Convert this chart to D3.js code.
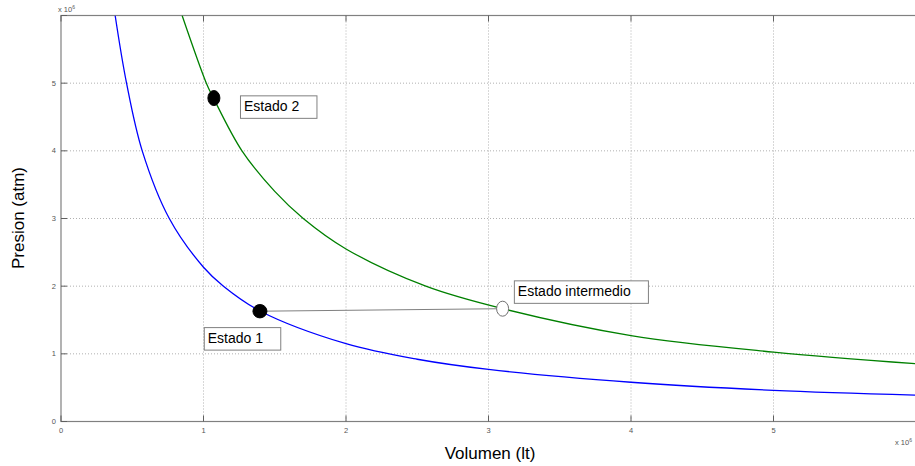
<!DOCTYPE html>
<html>
<head>
    <title>Presion vs Volumen</title>
    <script src="https://d3js.org/d3.v7.min.js"></script>
    <style>
        body {
            margin: 0;
            padding: 0;
            background: #ffffff;
            overflow: hidden;
            font-family: Arial, "Liberation Sans", sans-serif;
        }
        .grid line { stroke: #b0b0b0; stroke-dasharray: 1,2; }
        .tick-label { font-size: 7.5px; fill: #555; }
        .note rect { fill: #fff; stroke: #808080; stroke-width: 1; }
        .note text { font-size: 14px; fill: #000; }
    </style>
</head>
<body>
    <div id="chart"></div>
    <script>
        const width = 915;
        const height = 466;

        // Tick values (axis units are x10^6 on both axes)
        const xTicks = [0, 1, 2, 3, 4, 5, 6];
        const yTicks = [0, 1, 2, 3, 4, 5, 6];
        const yLabels = ['0', '1', '2', '3', '4', '5', ''];
        const xLabels = ['0', '1', '2', '3', '4', '5', ''];

        // Blue curve (Estado 1 side)
        const blueVol = [0.38, 0.46, 0.57, 0.76, 1.0, 1.14, 1.4, 2.0, 2.5, 3.0, 4.0, 5.0, 6.0];
        const bluePres = [6.0, 5.0, 4.0, 3.0, 2.28, 2.0, 1.63, 1.15, 0.92, 0.77, 0.58, 0.46, 0.39];

        // Green curve (Estado 2 side)
        const greenVol = [0.85, 1.02, 1.07, 1.27, 1.5, 1.7, 2.0, 2.56, 3.1, 4.0, 5.0, 6.0];
        const greenPres = [6.0, 5.0, 4.78, 4.0, 3.4, 3.0, 2.55, 2.0, 1.667, 1.27, 1.025, 0.853];

        // States
        const stateNames = ['Estado 1', 'Estado 2', 'Estado intermedio'];
        const stateVol = [1.396, 1.073, 3.099];
        const statePres = [1.63, 4.78, 1.667];
        const stateFill = ['#000', '#000', '#fff'];
        // label box anchors (top-left corner, data units)
        const labelVol = [1.002, 1.256, 3.178];
        const labelPres = [1.395, 4.82, 2.086];

        const svg = d3.select('#chart')
            .append('svg')
            .attr('width', width)
            .attr('height', height);

        const x = d3.scaleLinear().domain([0, 6]).range([61, 916]);
        const y = d3.scaleLinear().domain([0, 6]).range([421.5, 15.5]);

        svg.append('defs').append('clipPath')
            .attr('id', 'plot-clip')
            .append('rect')
            .attr('x', x(0)).attr('y', y(6))
            .attr('width', x(6) - x(0)).attr('height', y(0) - y(6));

        // Grid
        const grid = svg.append('g').attr('class', 'grid');
        grid.selectAll('line.v')
            .data(xTicks.slice(1, -1))
            .join('line')
            .attr('x1', d => x(d)).attr('x2', d => x(d))
            .attr('y1', y(0)).attr('y2', y(6));
        grid.selectAll('line.h')
            .data(yTicks.slice(0, -1))
            .join('line')
            .attr('y1', d => y(d)).attr('y2', d => y(d))
            .attr('x1', x(0)).attr('x2', x(6));

        // Axes box
        svg.append('rect')
            .attr('x', x(0)).attr('y', y(6))
            .attr('width', x(6) - x(0)).attr('height', y(0) - y(6))
            .attr('fill', 'none')
            .attr('stroke', '#808080')
            .attr('stroke-width', 1.2);

        // Ticks (inward)
        const ticks = svg.append('g').attr('stroke', '#606060').attr('stroke-width', 1);
        xTicks.forEach(d => {
            ticks.append('line').attr('x1', x(d)).attr('x2', x(d)).attr('y1', y(0)).attr('y2', y(0) - 6);
            ticks.append('line').attr('x1', x(d)).attr('x2', x(d)).attr('y1', y(6)).attr('y2', y(6) + 6);
        });
        yTicks.forEach(d => {
            ticks.append('line').attr('y1', y(d)).attr('y2', y(d)).attr('x1', x(0)).attr('x2', x(0) + 6);
        });

        svg.selectAll('text.xl')
            .data(xTicks)
            .join('text')
            .attr('class', 'tick-label')
            .attr('x', d => x(d))
            .attr('y', y(0) + 11)
            .attr('text-anchor', 'middle')
            .text((d, i) => xLabels[i]);

        svg.selectAll('text.yl')
            .data(yTicks)
            .join('text')
            .attr('class', 'tick-label')
            .attr('x', x(0) - 5)
            .attr('y', d => y(d) + 2.5)
            .attr('text-anchor', 'end')
            .text((d, i) => yLabels[i]);

        // Exponent labels
        const expTop = svg.append('text').attr('class', 'tick-label').attr('x', 58).attr('y', 12);
        expTop.append('tspan').text('x 10');
        expTop.append('tspan').attr('dy', -3).attr('font-size', 5).text('6');

        const expBot = svg.append('text').attr('class', 'tick-label').attr('x', 895).attr('y', 445);
        expBot.append('tspan').text('x 10');
        expBot.append('tspan').attr('dy', -3).attr('font-size', 5).text('6');

        // Axis titles
        svg.append('text')
            .attr('x', 490).attr('y', 459)
            .attr('text-anchor', 'middle')
            .attr('font-size', 17)
            .text('Volumen (lt)');

        svg.append('text')
            .attr('transform', `translate(24, 218) rotate(-90)`)
            .attr('text-anchor', 'middle')
            .attr('font-size', 17)
            .text('Presion (atm)');

        // Curves
        const line = d3.line()
            .x(d => x(d[0]))
            .y(d => y(d[1]))
            .curve(d3.curveCatmullRom.alpha(0.5));

        const plot = svg.append('g').attr('clip-path', 'url(#plot-clip)');

        plot.append('path')
            .datum(blueVol.map((v, i) => [v, bluePres[i]]))
            .attr('d', line)
            .attr('fill', 'none')
            .attr('stroke', '#0000ff')
            .attr('stroke-width', 1.3);

        plot.append('path')
            .datum(greenVol.map((v, i) => [v, greenPres[i]]))
            .attr('d', line)
            .attr('fill', 'none')
            .attr('stroke', '#008000')
            .attr('stroke-width', 1.3);

        // Connection Estado 1 -> Estado intermedio
        plot.append('line')
            .attr('x1', x(stateVol[0])).attr('y1', y(statePres[0]))
            .attr('x2', x(stateVol[2])).attr('y2', y(statePres[2]))
            .attr('stroke', '#808080')
            .attr('stroke-width', 1);

        // State markers
        plot.selectAll('ellipse.state')
            .data(stateNames)
            .join('ellipse')
            .attr('cx', (d, i) => x(stateVol[i]))
            .attr('cy', (d, i) => y(statePres[i]))
            .attr('rx', (d, i) => i === 0 ? 7 : 6)
            .attr('ry', (d, i) => i === 0 ? 6.7 : 7.5)
            .attr('fill', (d, i) => stateFill[i])
            .attr('stroke', (d, i) => i === 2 ? '#707070' : '#000')
            .attr('stroke-width', 1);

        // Annotation boxes
        const notes = svg.selectAll('g.note')
            .data(stateNames)
            .join('g')
            .attr('class', 'note')
            .attr('transform', (d, i) => `translate(${x(labelVol[i])},${y(labelPres[i])})`);

        notes.append('text')
            .attr('x', 4)
            .attr('y', 16)
            .text(d => d);

        notes.each(function () {
            const g = d3.select(this);
            const bb = g.select('text').node().getBBox();
            g.insert('rect', 'text')
                .attr('x', 0.5).attr('y', 0.5)
                .attr('width', bb.width + 21)
                .attr('height', 22.5);
        });
    </script>
</body>
</html>
